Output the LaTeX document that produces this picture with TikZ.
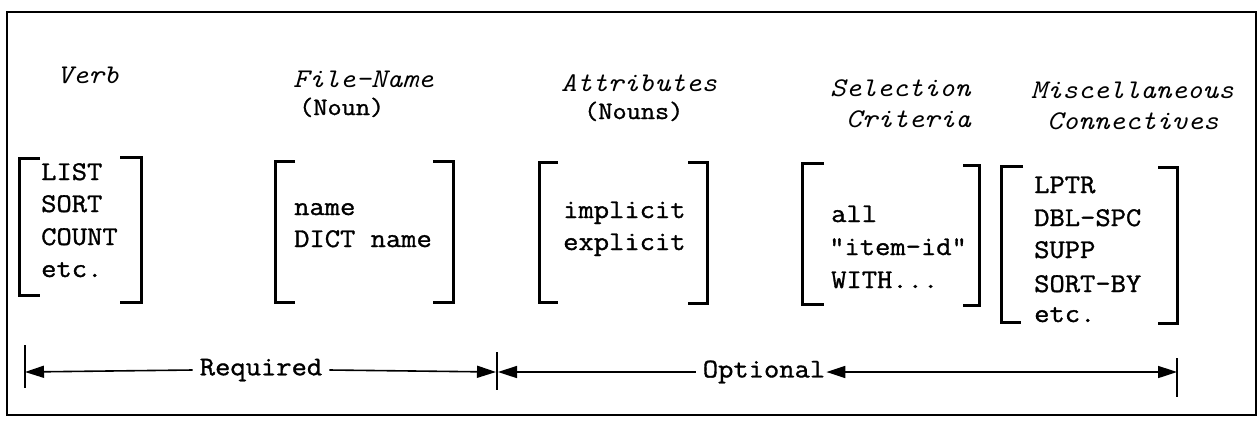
\documentclass[tikz,border=0pt]{standalone}
\usepackage{fontspec}
\setmonofont[FakeStretch=1.1,UprightFeatures={FakeBold=1.2}]{Latin Modern Mono}
\usetikzlibrary{arrows.meta}
\begin{document}
\begin{tikzpicture}[x=1pt,y=-1pt,
  txt/.style={anchor=base west,inner sep=0pt,font=\ttfamily\fontsize{27}{32}\selectfont},
  head/.style={anchor=base west,inner sep=0pt,font=\ttfamily\itshape\fontsize{27}{32}\selectfont},
  sub/.style={anchor=base west,inner sep=0pt,font=\ttfamily\fontsize{25}{30}\selectfont},
  lbl/.style={inner sep=0pt,font=\ttfamily\fontsize{27}{32}\selectfont},
  brk/.style={line width=3pt,line join=miter},
  dim/.style={line width=1.6pt},
  tick/.style={line width=1.4pt},
  tip/.style={-{Triangle[length=19pt,width=12pt]}},
  tips/.style={{Triangle[length=19pt,width=12pt]}-{Triangle[length=19pt,width=12pt]}}]
\useasboundingbox (0,0) rectangle (1260,421);
\draw[line width=2pt] (7,12) rectangle (1256,415);

% column headings
\node[head] (hVerb) at (57,83) {Verb};
\node[head] (hFile) at (293,87) {File-Name};
\node[sub]  (hNoun) at (299,115) {(Noun)};
\node[head] (hAttr) at (561,91) {Attributes};
\node[sub]  (hNouns) at (584,119) {(Nouns)};
\node[head] (hSel) at (830,96) {Selection};
\node[head] (hCrit) at (846,127) {Criteria};
\node[head] (hMisc) at (1031,98) {Miscellaneous};
\node[head] (hConn) at (1047,129) {Connectives};

% verbs
\node[txt] (v1) at (41,180) {LIST};
\node[txt] (v2) at (41,212) {SORT};
\node[txt] (v3) at (41,245) {COUNT};
\node[txt] (v4) at (41,277) {etc.};
\draw[brk] (40,158) -- (19,158) -- (19,295) -- (40,295);
\draw[brk] (120,157) -- (141,157) -- (141,302) -- (120,302);

% file name
\node[txt] (f1) at (294,215) {name};
\node[txt] (f2) at (294,247) {DICT name};
\draw[brk] (295,161) -- (275,161) -- (275,302) -- (295,302);
\draw[brk] (433,161) -- (453,161) -- (453,302) -- (433,302);

% attributes
\node[txt] (a1) at (563,218) {implicit};
\node[txt] (a2) at (563,250) {explicit};
\draw[brk] (558,162) -- (539,162) -- (539,302) -- (558,302);
\draw[brk] (688,162) -- (707,162) -- (707,303) -- (688,303);

% selection criteria
\node[txt] (s1) at (831,222) {all};
\node[txt] (s2) at (829,255) {"item-id"};
\node[txt] (s3) at (831,288) {WITH...};
\draw[brk] (824,163) -- (802,163) -- (802,304) -- (824,304);
\draw[brk] (963,165) -- (979,165) -- (979,305) -- (963,305);

% connectives
\node[txt] (m1) at (1034,193) {LPTR};
\node[txt] (m2) at (1034,226) {DBL-SPC};
\node[txt] (m3) at (1034,258) {SUPP};
\node[txt] (m4) at (1034,292) {SORT-BY};
\node[txt] (m5) at (1034,322) {etc.};
\draw[brk] (1023,166) -- (1001,166) -- (1001,322) -- (1021,322);
\draw[brk] (1158,167) -- (1177,167) -- (1177,323) -- (1158,323);

% required / optional span
\coordinate (tL) at (25,372);
\coordinate (tM) at (497,372);
\coordinate (tR) at (1177,372);
\draw[tick] (25,345) -- (25,388);
\draw[tick] (497,352) -- (497,390);
\draw[tick] (1177,358) -- (1177,397);
\node[lbl] (req) at (261,370) {Required};
\node[lbl] (opt) at (764,372) {Optional};
\draw[dim,tip] ([xshift=-7pt]req.west) -- (tL);
\draw[dim,tip] ([xshift=7pt]req.east) -- ([xshift=-1pt]tM);
\draw[dim,tip] ([xshift=-7pt]opt.west) -- ([xshift=1pt]tM);
\draw[dim,tips] ([xshift=1pt]opt.east) -- (tR);
\end{tikzpicture}
\end{document}
